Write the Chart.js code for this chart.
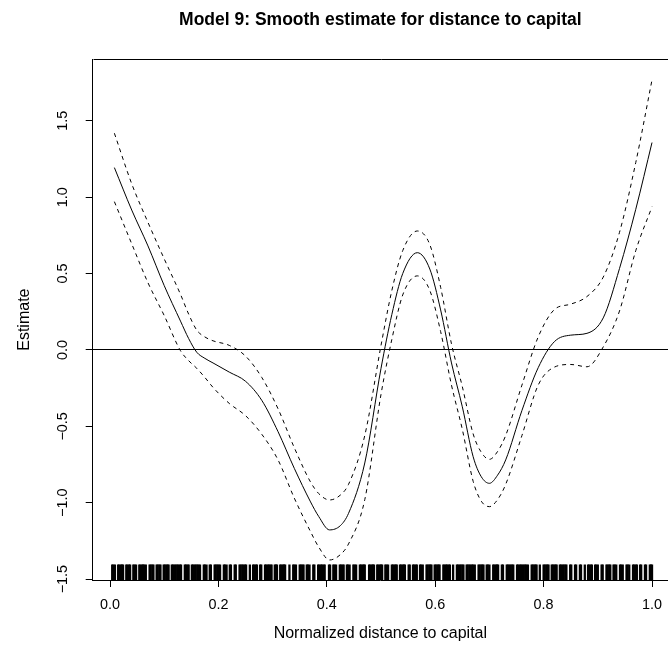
<!DOCTYPE html>
<html>
<head>
<meta charset="utf-8">
<script src="https://cdn.jsdelivr.net/npm/chart.js@4.4.1/dist/chart.umd.min.js"></script>
<style>
  html, body { margin: 0; padding: 0; background: #fff; }
  canvas { display: block; }
</style>
</head>
<body>
<canvas id="c" width="668" height="665"></canvas>
<script>
// ---- data ----
const gridX = [0.008, 0.04, 0.07, 0.10, 0.13, 0.145, 0.16, 0.175, 0.19, 0.22, 0.25, 0.28, 0.31, 0.34, 0.37, 0.385, 0.405, 0.425, 0.44, 0.47, 0.50, 0.52, 0.54, 0.567, 0.59, 0.61, 0.63, 0.65, 0.67, 0.685, 0.70, 0.715, 0.73, 0.76, 0.79, 0.82, 0.85, 0.88, 0.91, 0.94, 0.97, 1.0];
const fitY = [1.194, 0.916, 0.681, 0.421, 0.189, 0.075, -0.015, -0.055, -0.085, -0.145, -0.205, -0.33, -0.535, -0.775, -0.995, -1.09, -1.178, -1.15, -1.07, -0.74, -0.12, 0.233, 0.50, 0.637, 0.53, 0.262, -0.085, -0.372, -0.699, -0.83, -0.873, -0.82, -0.72, -0.396, -0.116, 0.055, 0.097, 0.109, 0.21, 0.533, 0.921, 1.358];
const upperY = [1.419, 1.088, 0.835, 0.596, 0.364, 0.235, 0.13, 0.085, 0.06, 0.03, -0.04, -0.18, -0.385, -0.64, -0.865, -0.94, -0.982, -0.95, -0.88, -0.56, 0.03, 0.39, 0.65, 0.779, 0.69, 0.41, 0.04, -0.24, -0.55, -0.67, -0.716, -0.665, -0.56, -0.23, 0.085, 0.265, 0.30, 0.35, 0.477, 0.77, 1.227, 1.768];
const lowerY = [0.971, 0.695, 0.44, 0.225, -0.005, -0.07, -0.12, -0.18, -0.245, -0.35, -0.43, -0.552, -0.72, -0.97, -1.19, -1.29, -1.375, -1.34, -1.27, -0.98, -0.29, 0.07, 0.36, 0.485, 0.39, 0.12, -0.23, -0.52, -0.86, -0.99, -1.026, -0.98, -0.88, -0.56, -0.23, -0.112, -0.095, -0.11, 0.02, 0.255, 0.65, 0.938];
const rugX = [0.004,0.006,0.009,0.015,0.017,0.020,0.022,0.024,0.030,0.032,0.035,0.037,0.043,0.045,0.048,0.054,0.056,0.059,0.061,0.063,0.066,0.073,0.075,0.078,0.080,0.086,0.088,0.091,0.093,0.099,0.101,0.104,0.106,0.108,0.114,0.116,0.119,0.121,0.124,0.126,0.129,0.131,0.138,0.140,0.143,0.145,0.151,0.153,0.156,0.158,0.161,0.163,0.166,0.173,0.175,0.178,0.184,0.186,0.193,0.195,0.198,0.200,0.203,0.210,0.212,0.215,0.221,0.223,0.230,0.232,0.239,0.241,0.244,0.246,0.249,0.251,0.258,0.264,0.266,0.269,0.271,0.277,0.279,0.286,0.288,0.291,0.293,0.296,0.298,0.304,0.306,0.308,0.314,0.316,0.319,0.321,0.323,0.331,0.338,0.340,0.343,0.350,0.352,0.355,0.357,0.363,0.365,0.368,0.375,0.377,0.384,0.386,0.389,0.391,0.394,0.396,0.404,0.406,0.412,0.414,0.417,0.424,0.426,0.429,0.431,0.437,0.439,0.442,0.449,0.451,0.454,0.461,0.463,0.466,0.468,0.470,0.478,0.480,0.483,0.485,0.487,0.493,0.495,0.498,0.500,0.502,0.508,0.510,0.513,0.520,0.522,0.525,0.527,0.529,0.535,0.537,0.540,0.542,0.544,0.551,0.553,0.559,0.561,0.564,0.566,0.572,0.574,0.577,0.584,0.586,0.589,0.591,0.593,0.599,0.601,0.604,0.606,0.608,0.615,0.617,0.620,0.622,0.625,0.627,0.633,0.640,0.642,0.645,0.647,0.650,0.652,0.658,0.660,0.663,0.665,0.668,0.670,0.673,0.680,0.682,0.685,0.687,0.689,0.695,0.697,0.700,0.707,0.709,0.712,0.714,0.716,0.723,0.725,0.732,0.734,0.737,0.739,0.742,0.744,0.751,0.753,0.756,0.758,0.761,0.763,0.766,0.768,0.771,0.778,0.780,0.783,0.785,0.787,0.793,0.800,0.802,0.805,0.807,0.809,0.815,0.817,0.820,0.822,0.824,0.830,0.832,0.835,0.837,0.840,0.842,0.849,0.851,0.858,0.860,0.867,0.869,0.876,0.882,0.884,0.887,0.889,0.895,0.897,0.900,0.907,0.909,0.916,0.918,0.921,0.923,0.929,0.931,0.934,0.941,0.943,0.946,0.953,0.955,0.958,0.965,0.967,0.970,0.972,0.978,0.980,0.987,0.989,0.996,0.998,1.000];
const xTicks = [0.0, 0.2, 0.4, 0.6, 0.8, 1.0];
const yTicks = [-1.5, -1.0, -0.5, 0.0, 0.5, 1.0, 1.5];
const titleText = 'Model 9: Smooth estimate for distance to capital';
const xLabel = 'Normalized distance to capital';
const yLabel = 'Estimate';

// ---- styling / layout constants ----
const X_MIN = -0.032, X_MAX = 1.0295;
const Y_MIN = -1.506, Y_MAX = 1.903;
const RUG_Y = -1.455;
const FONT = '"Liberation Sans", Arial, Helvetica, sans-serif';

Chart.defaults.font.family = FONT;
Chart.defaults.color = '#000';

const pts = (ys) => gridX.map((x, i) => ({ x: x, y: ys[i] }));
const fmt = (v) => {
  const s = Number(v).toFixed(1);
  return s.startsWith('-') ? '\u2212' + s.slice(1) : s;
};

const boxPlugin = {
  id: 'box',
  afterDraw(chart) {
    const { ctx, chartArea: a } = chart;
    ctx.save();
    ctx.strokeStyle = '#000';
    ctx.lineWidth = 1;
    ctx.beginPath();
    const t = Math.round(a.top) + 0.5;
    ctx.moveTo(Math.round(a.left) + 0.5, t);
    ctx.lineTo(a.right + 2, t);
    ctx.stroke();
    ctx.restore();
  }
};

new Chart(document.getElementById('c'), {
  type: 'scatter',
  data: {
    datasets: [
      { type: 'line', data: pts(fitY), borderColor: '#000', borderWidth: 1, pointRadius: 0, cubicInterpolationMode: 'monotone', fill: false },
      { type: 'line', data: pts(upperY), borderColor: '#000', borderWidth: 1, borderDash: [4, 4], pointRadius: 0, cubicInterpolationMode: 'monotone', fill: false },
      { type: 'line', data: pts(lowerY), borderColor: '#000', borderWidth: 1, borderDash: [4, 4], pointRadius: 0, cubicInterpolationMode: 'monotone', fill: false },
      { type: 'scatter', data: rugX.map(x => ({ x: x, y: RUG_Y })), pointStyle: 'line', pointRotation: 90, pointRadius: 7.8, pointHoverRadius: 7.8, pointBorderWidth: 2.3, pointBorderColor: '#000', pointBackgroundColor: '#000', showLine: false }
    ]
  },
  options: {
    responsive: false,
    devicePixelRatio: 1,
    animation: false,
    events: [],
    layout: { padding: 0, autoPadding: false },
    plugins: {
      legend: { display: false },
      tooltip: { enabled: false },
      title: {
        display: true,
        text: titleText,
        fullSize: false,
        color: '#000',
        font: { size: 17.5, weight: 'bold', family: FONT, lineHeight: 1.2 },
        padding: { top: 9.5, bottom: 28.8 }
      }
    },
    scales: {
      x: {
        type: 'linear',
        min: X_MIN, max: X_MAX,
        afterBuildTicks: (s) => { s.ticks = xTicks.map(v => ({ value: v })); },
        afterFit: (s) => { s.height = 85; s.paddingLeft = 0; s.paddingRight = 0; },
        ticks: { callback: (v) => fmt(v), font: { size: 14.4 }, padding: 9.4, maxRotation: 0, autoSkip: false, color: '#000' },
        grid: { drawOnChartArea: false, drawTicks: true, tickLength: 7, tickColor: '#000', color: '#000' },
        border: { display: true, color: '#000', width: 1 },
        title: { display: true, text: xLabel, font: { size: 16 }, padding: { top: 0, bottom: 21.6 }, color: '#000' }
      },
      y: {
        type: 'linear',
        min: Y_MIN, max: Y_MAX,
        afterBuildTicks: (s) => { s.ticks = yTicks.map(v => ({ value: v })); },
        afterFit: (s) => { s.width = 92.7; s.paddingTop = 0; s.paddingBottom = 0; },
        ticks: { callback: (v) => fmt(v), font: { size: 14.4 }, padding: 8.5, minRotation: 90, maxRotation: 90, crossAlign: 'center', autoSkip: false, color: '#000' },
        grid: {
          drawOnChartArea: true, drawTicks: true, tickLength: 7, tickColor: '#000',
          color: (c) => (c.tick && c.tick.value === 0 ? '#000' : 'rgba(0,0,0,0)')
        },
        border: { display: true, color: '#000', width: 1 },
        title: { display: true, text: yLabel, font: { size: 16 }, padding: { top: 15.4, bottom: 0 }, color: '#000' }
      }
    }
  },
  plugins: [boxPlugin]
});
</script>
</body>
</html>
